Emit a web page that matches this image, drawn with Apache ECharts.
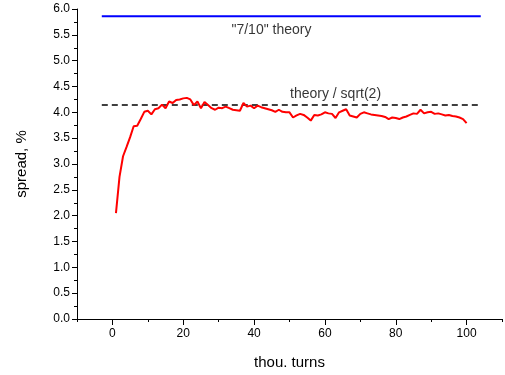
<!DOCTYPE html>
<html><head><meta charset="utf-8">
<script src="https://cdn.jsdelivr.net/npm/echarts@6/dist/echarts.min.js"></script>
<style>html,body{margin:0;padding:0;background:#fff}#c{width:505px;height:375px}</style>
</head><body><div id="c"></div>
<script>
const turns = [1,2,3,4,5,6,7,8,9,10,11,12,13,14,15,16,17,18,19,20,21,22,23,24,25,26,27,28,29,30,31,32,33,34,35,36,37,38,39,40,41,42,43,44,45,46,47,48,49,50,51,52,53,54,55,56,57,58,59,60,61,62,63,64,65,66,67,68,69,70,71,72,73,74,75,76,77,78,79,80,81,82,83,84,85,86,87,88,89,90,91,92,93,94,95,96,97,98,99,100];
const spread = [2.05,2.75,3.15,3.33,3.52,3.73,3.74,3.87,4.01,4.03,3.96,4.06,4.08,4.15,4.08,4.21,4.18,4.24,4.25,4.27,4.28,4.25,4.14,4.21,4.08,4.20,4.14,4.08,4.05,4.09,4.08,4.11,4.08,4.05,4.04,4.03,4.18,4.11,4.13,4.08,4.13,4.10,4.08,4.06,4.04,4.01,4.05,4.01,4.00,4.00,3.90,3.94,3.97,3.95,3.90,3.84,3.95,3.94,3.96,4.00,3.98,3.97,3.89,4.00,4.03,4.06,3.94,3.92,3.90,3.97,4.00,3.98,3.96,3.95,3.94,3.93,3.91,3.87,3.90,3.89,3.87,3.90,3.92,3.95,3.98,3.97,4.05,3.98,4.00,4.01,3.97,3.98,3.96,3.94,3.95,3.93,3.92,3.90,3.87,3.79];
const theoryX = [-3, 104];
const theory710 = 5.86;
const theorySqrt2 = 4.14;
const labelTexts = ['"7/10" theory', 'theory / sqrt(2)'];
const labelPos = [[44.9, 5.6], [63, 4.35]];
const xTicks = [0, 20, 40, 60, 80, 100];

const font = 'Liberation Sans, Arial, sans-serif';
const chart = echarts.init(document.getElementById('c'), null, {renderer: 'canvas'});
chart.setOption({
  animation: false,
  backgroundColor: '#fff',
  grid: {left: 77, right: 3, top: 9, bottom: 53},
  xAxis: [{
    type: 'value', min: -10, max: 110, interval: 10,
    axisLine: {show: true, onZero: false, lineStyle: {color: '#000', width: 1}},
    splitLine: {show: false},
    axisTick: {show: true, inside: false, length: 6, lineStyle: {color: '#000'}, customValues: xTicks},
    axisLabel: {color: '#000', fontFamily: font, fontSize: 12, margin: 9, customValues: xTicks,
      formatter: v => String(v)},
    name: 'thou. turns', nameLocation: 'middle', nameGap: 36,
    nameTextStyle: {color: '#000', fontFamily: font, fontSize: 15}
  }, {
    type: 'value', min: -10, max: 110, interval: 10, position: 'bottom',
    axisLine: {show: false, onZero: false}, splitLine: {show: false},
    axisTick: {show: true, length: 3, lineStyle: {color: '#000'}},
    axisLabel: {show: false}
  }],
  yAxis: {
    type: 'value', min: 0, max: 6, interval: 0.5,
    axisLine: {show: true, onZero: false, lineStyle: {color: '#000', width: 1}},
    splitLine: {show: false},
    axisTick: {show: true, length: 5, lineStyle: {color: '#000'}},
    minorTick: {show: true, splitNumber: 2, length: 3, lineStyle: {color: '#000'}},
    axisLabel: {color: '#000', fontFamily: font, fontSize: 12, margin: 7, formatter: v => v.toFixed(1)},
    name: 'spread, %', nameLocation: 'middle', nameGap: 48, nameRotate: 90,
    nameTextStyle: {color: '#000', fontFamily: font, fontSize: 15}
  },
  series: [
    {type: 'line', data: theoryX.map(x => [x, theory710]), symbol: 'none',
      lineStyle: {color: '#0000ff', width: 2}},
    {type: 'line', data: theoryX.map(x => [x, theorySqrt2]), symbol: 'none',
      lineStyle: {color: '#000', width: 1.5, type: [6, 4]}},
    {type: 'line', data: turns.map((t, i) => [t, spread[i]]), symbol: 'none',
      lineStyle: {color: '#ff0000', width: 2}},
    {type: 'scatter', symbolSize: 0, silent: true,
      data: labelPos.map((p, i) => ({value: p, name: labelTexts[i]})),
      label: {show: true, position: 'inside', formatter: p => p.name,
        color: '#000', fontFamily: font, fontSize: 14}}
  ]
});
</script></body></html>
